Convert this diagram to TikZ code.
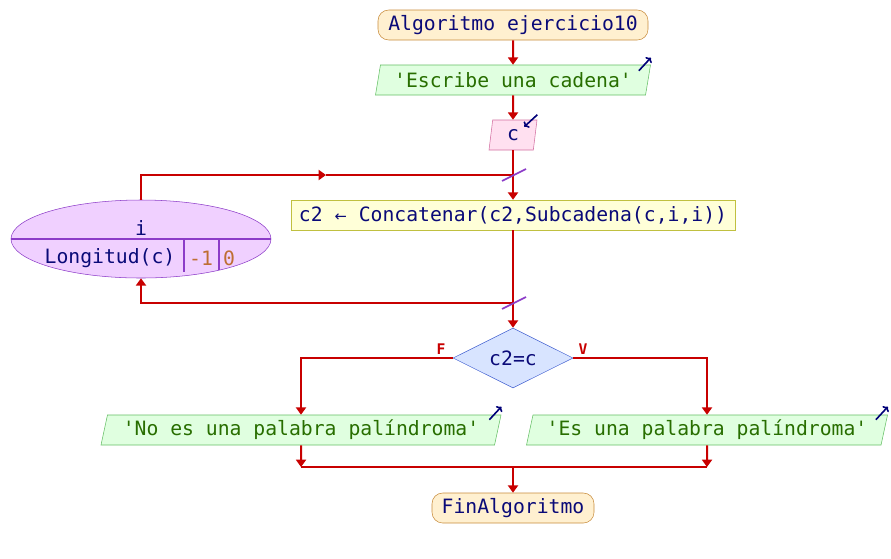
\documentclass[tikz,border=0pt]{standalone}
\usepackage{fontspec}
\newfontfamily\psmono{DejaVu Sans Mono}
\usetikzlibrary{shapes.geometric,arrows.meta}
\definecolor{flujo}{RGB}{200,0,0}
\definecolor{texto}{RGB}{10,10,120}
\definecolor{cadena}{RGB}{40,110,0}
\definecolor{numero}{RGB}{190,110,50}

\begin{document}
\begin{tikzpicture}[x=0.75pt,y=-0.75pt,
        font=\psmono\fontsize{14.8}{16}\selectfont,text=texto,
        flow/.style={draw=flujo,line width=1.5pt},
        tip/.style={-{Triangle[width=7.5pt,length=5.5pt]}},
        limite/.style={draw={rgb,255:red,200;green,140;blue,60},fill={rgb,255:red,255;green,240;blue,208},
            rounded corners=8pt,minimum height=22.5pt,inner sep=0pt},
        salida/.style={trapezium,trapezium left angle=72,trapezium right angle=108,
            trapezium stretches body,draw={rgb,255:red,100;green,190;blue,100},
            fill={rgb,255:red,224;green,255;blue,224},text=cadena,minimum height=22.5pt,inner sep=0pt},
        entrada/.style={trapezium,trapezium left angle=72,trapezium right angle=108,
            trapezium stretches body,draw={rgb,255:red,210;green,110;blue,160},
            fill={rgb,255:red,255;green,224;blue,240},minimum height=22.5pt,inner sep=0pt},
        icono/.style={draw={rgb,255:red,0;green,0;blue,120},line width=1.2pt,-{To[length=3pt]}},
        marca/.style={draw={rgb,255:red,140;green,60;blue,200},line width=1.2pt},
        etq/.style={text=flujo,font=\psmono\fontsize{11}{12}\bfseries\selectfont}]

\useasboundingbox (0,0) rectangle (891,558);

\node[limite,minimum width=202.5pt] (alg) at (513,25) {Algoritmo ejercicio10};
\node[salida,minimum width=206.25pt] (esc) at (513,80) {'Escribe una cadena'};
\node[entrada,minimum width=36pt] (lee) at (513,135) {c};
\node[draw={rgb,255:red,192;green,192;blue,64},fill={rgb,255:red,255;green,255;blue,216},
    minimum width=333pt,minimum height=22.5pt,inner sep=0pt] (asig) at (513,215)
    {c2 {\fontspec{DejaVu Sans}\fontsize{11}{12}\selectfont←} Concatenar(c2,Subcadena(c,i,i))};

% bucle para
\node[ellipse,draw={rgb,255:red,140;green,60;blue,200},fill={rgb,255:red,240;green,208;blue,255},
    minimum width=195pt,minimum height=58.5pt,inner sep=0pt] (lp) at (141,239) {};
\draw[marca,line width=0.8pt] (lp.west) -- (lp.east);
\draw[marca,line width=0.8pt] (184,239) -- (184,272);
\draw[marca,line width=0.8pt] (219,239) -- (219,270);
\node (var) at (141,228) {i};
\node (lfin) at (110,258) {Longitud(c)};
\node[text=numero] (lpaso) at (201,258) {-1};
\node[text=numero] (lini) at (229,258) {0};

\node[diamond,aspect=2,draw={rgb,255:red,70;green,100;blue,210},fill={rgb,255:red,216;green,228;blue,255},
    minimum width=90pt,minimum height=45pt,inner sep=0pt] (cond) at (513,358) {c2=c};
\node[salida,minimum width=300pt] (nopal) at (301,430) {'No es una palabra palíndroma'};
\node[salida,minimum width=270.75pt] (sipal) at (707,430) {'Es una palabra palíndroma'};
\node[limite,minimum width=121.5pt] (fin) at (513,508) {FinAlgoritmo};

\node[etq] (lf) at (441,349) {F};
\node[etq] (lv) at (583,349) {V};

\coordinate (j1) at (513,175);
\coordinate (m1) at (326,175);
\coordinate (j2) at (513,303);
\coordinate (j3) at (513,467);

\draw[flow,tip] (alg) -- (esc);
\draw[flow,tip] (esc) -- (lee);
\draw[flow] (lee) -- (j1);
\draw[flow,tip] (j1) -- (asig);
\draw[flow,tip] (lp.north) |- (m1);
\draw[flow] (m1) -- (j1);
\draw[flow] (asig) -- (j2);
\draw[flow,tip] (j2) -| (lp.south);
\draw[flow,tip] (j2) -- (cond);
\draw[flow,tip] (cond.west) -| (nopal);
\draw[flow,tip] (cond.east) -| (sipal);
\draw[flow,tip] (nopal) -- (nopal |- j3);
\draw[flow,tip] (sipal) -- (sipal |- j3);
\draw[flow] (nopal |- j3) -- (sipal |- j3);
\draw[flow,tip] (j3) -- (fin);

\draw[marca] ([shift={(-11,6)}]j1) -- ([shift={(13,-6)}]j1);
\draw[marca] ([shift={(-11,6)}]j2) -- ([shift={(13,-6)}]j2);

\draw[icono] ([shift={(-12,6)}]esc.top right corner) -- ([shift={(0,-7)}]esc.top right corner);
\draw[icono] ([shift={(0,-5)}]lee.top right corner) -- ([shift={(-13,7)}]lee.top right corner);
\draw[icono] ([shift={(-12,5)}]nopal.top right corner) -- ([shift={(0,-8)}]nopal.top right corner);
\draw[icono] ([shift={(-12,5)}]sipal.top right corner) -- ([shift={(0,-8)}]sipal.top right corner);
\end{tikzpicture}
\end{document}
